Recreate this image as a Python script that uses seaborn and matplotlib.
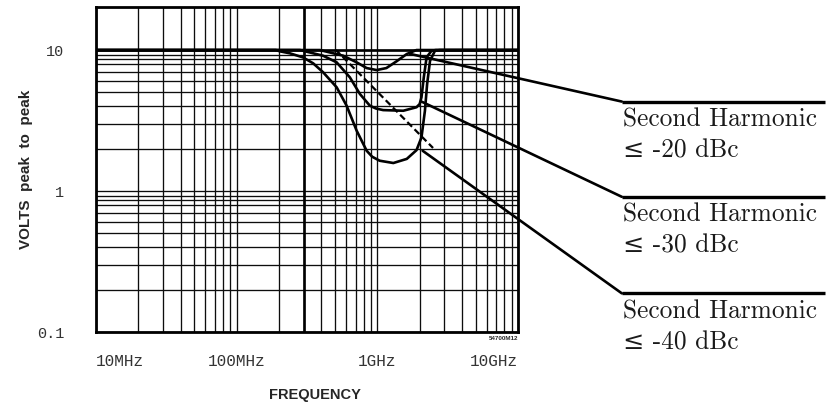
import matplotlib
matplotlib.use('Agg')
import matplotlib.pyplot as plt
import seaborn as sns
import pandas as pd

# curves: frequency in Hz, volts peak to peak
freq_40 = [1e7, 1.90e8, 2.03e8, 2.39e8, 2.96e8, 3.5e8, 4.12e8, 5.14e8, 6.05e8, 7.13e8, 8.40e8,
           9.2e8, 1.04e9, 1.30e9, 1.62e9, 1.90e9, 2.06e9, 2.18e9, 2.26e9, 2.37e9, 2.57e9, 2.79e9, 1e10]
volt_40 = [10, 10, 9.79, 9.48, 8.87, 8.05, 6.95, 5.44, 4.03, 2.68, 1.93,
           1.75, 1.64, 1.58, 1.69, 1.95, 2.40, 3.71, 5.74, 8.39, 9.89, 10, 10]

freq_30 = [1e7, 2.82e8, 4.12e8, 5.14e8, 6.38e8, 7.52e8, 8.85e8, 9.77e8, 1.10e9, 1.53e9, 1.90e9,
           2.0e9, 2.06e9, 2.14e9, 2.24e9, 2.43e9, 2.61e9, 1e10]
volt_30 = [10, 10, 9.11, 8.18, 6.40, 4.88, 4.03, 3.85, 3.75, 3.71, 3.93,
           4.14, 4.62, 6.40, 8.87, 9.89, 10, 10]

freq_20 = [1e7, 3.91e8, 5.73e8, 7.13e8, 8.40e8, 9.88e8, 1.16e9, 1.37e9, 1.62e9, 1.90e9, 1e10]
volt_20 = [10, 10, 9.11, 8.18, 7.45, 7.21, 7.45, 8.32, 9.37, 10, 10]

# dashed 1/f limit line
freq_dash = [5.0e8, 5.14e8, 2.49e9]
volt_dash = [10, 9.89, 2.02]

# where the leader lines touch the curves
lead_freq = [1.70e9, 2.07e9, 2.10e9]
lead_volt = [9.4, 4.3, 1.93]
lead_text = ['-20', '-30', '-40']

x_ticks = [1e7, 1e8, 1e9, 1e10]
x_ticklabels = ['10MHz', '100MHz', '1GHz', '10GHz']
y_ticks = [0.1, 1, 10]
y_ticklabels = ['0.1', '1', '10']
x_minor = [m * d for d in [1e7, 1e8, 1e9] for m in [2, 3, 4, 5, 6, 7, 8, 9]]
y_minor = [m * d for d in [0.1, 1] for m in [2, 3, 4, 5, 6, 7, 8, 8.6, 9.2]]

sns.set_style('white')
plt.rcParams['font.family'] = ['Liberation Sans', 'DejaVu Sans']

df = pd.concat([
    pd.DataFrame({'freq': freq_40, 'volt': volt_40, 'curve': '-40 dBc'}),
    pd.DataFrame({'freq': freq_30, 'volt': volt_30, 'curve': '-30 dBc'}),
    pd.DataFrame({'freq': freq_20, 'volt': volt_20, 'curve': '-20 dBc'}),
])
dash = pd.DataFrame({'freq': freq_dash, 'volt': volt_dash})

fig = plt.figure(figsize=(8.36, 4.04), dpi=100)
ax = fig.add_axes([0.1148, 0.1782, 0.5048, 0.8045])
ax.set_xscale('log')
ax.set_yscale('log')

sns.lineplot(data=df, x='freq', y='volt', hue='curve', units='curve', estimator=None,
             palette=['black'] * 3, linewidth=1.9, legend=False, ax=ax, zorder=3)
sns.lineplot(data=dash, x='freq', y='volt', color='black', linewidth=1.6,
             linestyle=(0, (3, 1.6)), ax=ax, zorder=3)
for ln in ax.lines:
    ln.set_solid_joinstyle('round')

ax.set_xlim(1e7, 1e10)
ax.set_ylim(0.1, 20.2)

# grid
ax.set_xticks(x_ticks)
ax.set_xticks(x_minor, minor=True)
ax.set_yticks(y_ticks)
ax.set_yticks(y_minor, minor=True)
ax.grid(True, which='both', color='0.05', linewidth=0.95)
ax.axvline(3e8, color='black', linewidth=1.9, zorder=2)
ax.axhline(10, color='black', linewidth=1.9, zorder=2)

ax.set_xticklabels(x_ticklabels, family='Liberation Mono', fontsize=11.5, color='0.2')
ax.set_yticklabels(y_ticklabels, family='Liberation Mono', fontsize=11, color='0.2')
ax.tick_params(which='both', length=0)
ax.tick_params(axis='x', pad=16)
ax.tick_params(axis='y', pad=23)
xt = ax.get_xticklabels()
xt[0].set_ha('left')
xt[-1].set_ha('right')

for s in ax.spines.values():
    s.set_linewidth(2)
    s.set_color('black')

ax.set_xlabel('FREQUENCY', fontsize=10.5, fontweight='bold')
ax.xaxis.set_label_coords(0.519, -0.172)
ax.set_ylabel('VOLTS  peak  to  peak', fontsize=11, fontweight='bold')
ax.yaxis.set_label_coords(-0.15, 0.5)

ax.text(1.0, -0.012, '54700M12', transform=ax.transAxes, ha='right', va='top',
        fontsize=4.5, fontweight='bold')

# leaders and labels
elbow_x = 1.246
end_x = 1.727
elbow_y = [0.709, 0.416, 0.119]
for f, v, t, ey in zip(lead_freq, lead_volt, lead_text, elbow_y):
    ax.annotate('', xy=(f, v), xycoords='data', xytext=(elbow_x, ey),
                textcoords='axes fraction',
                arrowprops=dict(arrowstyle='-', color='black', lw=1.9,
                                shrinkA=0, shrinkB=0))
    ax.plot([elbow_x, end_x], [ey, ey], transform=ax.transAxes, clip_on=False,
            color='black', linewidth=2.4, solid_capstyle='butt')
    ax.text(elbow_x + 0.002, ey - 25 / 325, 'Second Harmonic', transform=ax.transAxes,
            family='cmr10', fontsize=18.3, va='baseline', ha='left', color='0.1')
    ax.text(elbow_x + 0.002, ey - 56 / 325, '\u2264 ' + t + ' dBc', transform=ax.transAxes,
            family=['cmr10', 'DejaVu Serif'], fontsize=18.3, va='baseline', ha='left',
            color='0.1')

fig.savefig('out.png', dpi=100)
